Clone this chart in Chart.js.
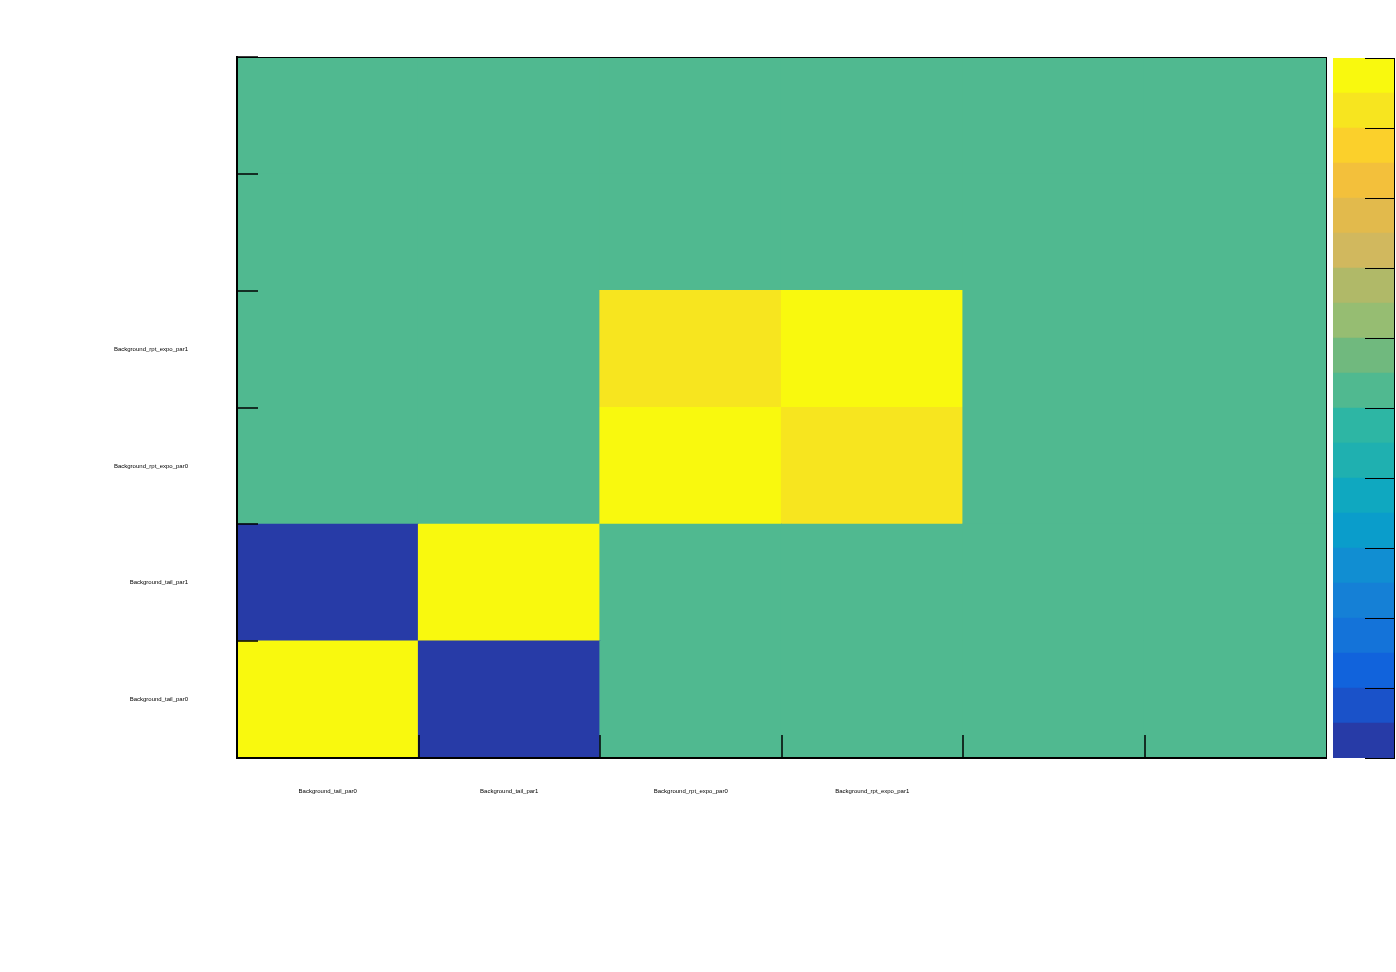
<!DOCTYPE html>
<html>
<head>
<meta charset="utf-8">
<script src="https://cdn.jsdelivr.net/npm/chart.js@4/dist/chart.umd.min.js"></script>
<style>
  html, body { margin: 0; padding: 0; background: #ffffff; }
  #wrap { position: relative; width: 1396px; height: 972px; overflow: hidden; }
  #main { position: absolute; left: 0; top: 0; }
  #cbar { position: absolute; left: 1320px; top: 0; }
</style>
</head>
<body>
<div id="wrap">
  <canvas id="main" width="1396" height="972"></canvas>
  <canvas id="cbar" width="76" height="972"></canvas>
</div>
<script>
// ---- data ----
const parameters = ["Background_tail_par0", "Background_tail_par1", "Background_rpt_expo_par0", "Background_rpt_expo_par1", "", ""];
// correlation rows, from bottom (row 0) to top (row 5); columns follow parameters
const rowTailPar0    = [1, -1, 0, 0, 0, 0];
const rowTailPar1    = [-1, 1, 0, 0, 0, 0];
const rowExpoPar0    = [0, 0, 1, 0.85, 0, 0];
const rowExpoPar1    = [0, 0, 0.85, 1, 0, 0];
const rowEmpty4      = [0, 0, 0, 0, 0, 0];
const rowEmpty5      = [0, 0, 0, 0, 0, 0];
const matrixRows = [rowTailPar0, rowTailPar1, rowExpoPar0, rowExpoPar1, rowEmpty4, rowEmpty5];
const rowTicks = [0, 1, 2, 3, 4, 5, 6];
const colorLevels = [-1, -0.9, -0.8, -0.7, -0.6, -0.5, -0.4, -0.3, -0.2, -0.1, 0, 0.1, 0.2, 0.3, 0.4, 0.5, 0.6, 0.7, 0.8, 0.9, 1];
const colorbarTicks = [-1, -0.8, -0.6, -0.4, -0.2, 0, 0.2, 0.4, 0.6, 0.8, 1];

// ---- palette (bottom to top) ----
const palette = [
  "#273ba7", "#1a52c9", "#1163dc", "#1473d9", "#1580d6",
  "#118ed2", "#0a9dcb", "#0fa8c0", "#1fb0b0", "#2db6a4",
  "#50b990", "#70b97e", "#96bd72", "#b0b968", "#d1b85e",
  "#e2ba4c", "#f3c03b", "#fbd02b", "#f7e51f", "#f9f90e"
];
function colorFor(v) {
  const lo = colorLevels[0], hi = colorLevels[colorLevels.length - 1];
  const n = palette.length;
  let idx = Math.floor((v - lo) / (hi - lo) * n + 1e-9);
  idx = Math.max(0, Math.min(n - 1, idx));
  return palette[idx];
}

const FONT = { family: "'Liberation Sans', Arial, sans-serif", size: 6 };

const frameTicks = {
  id: 'frameTicks',
  afterDatasetsDraw(chart) {
    const ctx = chart.ctx, a = chart.chartArea;
    const xs = chart.scales.x, ys = chart.scales.y;
    ctx.save();
    ctx.strokeStyle = '#000';
    ctx.lineWidth = 1;
    ctx.strokeRect(a.left + 0.5, a.top + 0.5, a.right - a.left, a.bottom - a.top);
    ctx.lineWidth = 2;
    ctx.beginPath();
    ctx.moveTo(a.left, a.top - 1); ctx.lineTo(a.left, a.bottom + 1);
    ctx.moveTo(a.left - 1, a.bottom); ctx.lineTo(a.right, a.bottom);
    ctx.stroke();
    ctx.lineWidth = 1.5;
    ctx.beginPath();
    for (let i = 1; i < parameters.length; i++) {
      const px = Math.round(xs.getPixelForValue(i - 0.5));
      ctx.moveTo(px, a.bottom); ctx.lineTo(px, a.bottom - 23);
    }
    rowTicks.forEach(v => {
      const py = Math.round(ys.getPixelForValue(v));
      ctx.moveTo(a.left, py); ctx.lineTo(a.left + 21, py);
    });
    ctx.stroke();
    ctx.restore();
  }
};

const datasets = matrixRows.map((row, r) => ({
  label: 'row' + r,
  data: row.map(() => 1),
  backgroundColor: row.map(v => colorFor(v)),
  borderWidth: 0,
  inflateAmount: 0.6,
  barPercentage: 1.0,
  categoryPercentage: 1.0
}));

new Chart(document.getElementById('main'), {
  type: 'bar',
  data: { labels: parameters, datasets },
  options: {
    responsive: false,
    animation: false,
    devicePixelRatio: 1,
    layout: { padding: { top: 57, right: 70, left: 0, bottom: 0 } },
    plugins: { legend: { display: false }, tooltip: { enabled: false } },
    scales: {
      x: {
        stacked: true,
        grid: { display: false, drawTicks: false },
        border: { display: false },
        ticks: { font: FONT, color: '#000', padding: 30, maxRotation: 0, autoSkip: false },
        afterFit(s) { s.height = 214; }
      },
      y: {
        stacked: true,
        min: 0, max: 6,
        grid: { display: false, drawTicks: false },
        border: { display: false },
        afterBuildTicks(s) {
          s.ticks = parameters.map((p, i) => ({ value: i + 0.5 }));
        },
        ticks: {
          font: FONT, color: '#000', padding: 49,
          callback(v) { return parameters[Math.round(v - 0.5)] || ''; }
        },
        afterFit(s) { s.width = 237; }
      }
    }
  },
  plugins: [frameTicks]
});

// ---- colour bar ----
const barSets = palette.map((c, i) => ({
  label: 'lvl' + i,
  data: [[colorLevels[i], colorLevels[i + 1]]],
  backgroundColor: c,
  borderWidth: 0,
  borderSkipped: false,
  inflateAmount: 0.3,
  barPercentage: 1.0,
  categoryPercentage: 1.0
}));

const cbarTicks = {
  id: 'cbarTicks',
  afterDatasetsDraw(chart) {
    const ctx = chart.ctx, a = chart.chartArea, ys = chart.scales.y;
    ctx.save();
    ctx.strokeStyle = '#000';
    ctx.lineWidth = 1;
    ctx.beginPath();
    ctx.moveTo(a.right + 0.5, a.top); ctx.lineTo(a.right + 0.5, a.bottom + 1);
    colorbarTicks.forEach(v => {
      const py = Math.round(ys.getPixelForValue(v)) + 0.5;
      ctx.moveTo(a.right - 29, py); ctx.lineTo(a.right + 1, py);
    });
    ctx.stroke();
    ctx.restore();
  }
};

new Chart(document.getElementById('cbar'), {
  type: 'bar',
  data: { labels: [''], datasets: barSets },
  options: {
    responsive: false,
    animation: false,
    devicePixelRatio: 1,
    layout: { padding: { top: 58, right: 0, left: 13, bottom: 214 } },
    plugins: { legend: { display: false }, tooltip: { enabled: false } },
    scales: {
      x: { display: false, stacked: true },
      y: {
        position: 'right',
        stacked: false,
        min: colorLevels[0], max: colorLevels[colorLevels.length - 1],
        grid: { display: false, drawTicks: false },
        border: { display: false },
        ticks: { display: false },
        afterFit(s) { s.width = 2; }
      }
    }
  },
  plugins: [cbarTicks]
});
</script>
</body>
</html>
